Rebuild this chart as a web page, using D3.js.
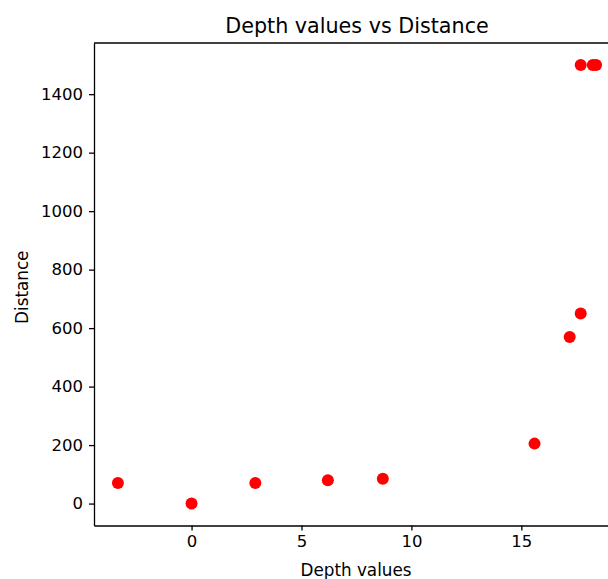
<!DOCTYPE html>
<html lang="en">
<head>
<meta charset="utf-8">
<title>Depth values vs Distance</title>
<script src="https://cdn.jsdelivr.net/npm/d3@7"></script>
<style>
    body { margin: 0; background: white; }
    .axis path, .axis line { fill: none; stroke: black; stroke-width: 1.3; }
    .axis text { font-family: "DejaVu Sans", sans-serif; font-size: 16.5px; fill: black; }
</style>
</head>
<body>
<script>
// data
var depth    = [-3.35, 0, 2.9, 6.2, 8.7, 15.6, 17.2, 17.7, 17.7, 18.25, 18.4];
var distance = [70, 0, 70, 80, 85, 205, 570, 650, 1500, 1500, 1500];
var xTicks = [0, 5, 10, 15];
var yTicks = [0, 200, 400, 600, 800, 1000, 1200, 1400];

var outer_width = 608, outer_height = 579;
// plot box (right side runs past the window like the original)
var margin = {top: 43, left: 94};
var plot_width = 526, plot_height = 482.5;

var svg = d3.select("body").append("svg")
    .attr("width", outer_width)
    .attr("height", outer_height);

var g = svg.append("g")
    .attr("transform", "translate(" + margin.left + "," + margin.top + ")");

// matplotlib style 5% padding
function padded(vals) {
    var lo = d3.min(vals), hi = d3.max(vals), m = (hi - lo) * 0.05;
    return [lo - m, hi + m];
}

var xScale = d3.scaleLinear().domain(padded(depth)).range([0, plot_width]);
var yScale = d3.scaleLinear().domain(padded(distance)).range([plot_height, 0]);

var xAxis = d3.axisBottom(xScale).tickValues(xTicks).tickFormat(d3.format("d"))
    .tickSize(5).tickPadding(5).tickSizeOuter(0);
var yAxis = d3.axisLeft(yScale).tickValues(yTicks).tickFormat(d3.format("d"))
    .tickSize(5).tickPadding(6).tickSizeOuter(0);

g.append("g").attr("class", "axis")
    .attr("transform", "translate(0," + plot_height + ")")
    .call(xAxis);
g.append("g").attr("class", "axis").call(yAxis);

// top spine
g.append("line")
    .attr("x1", 0).attr("x2", plot_width)
    .attr("y1", 0).attr("y2", 0)
    .attr("stroke", "black").attr("stroke-width", 1.3);

// points
g.selectAll("circle.pt")
    .data(depth)
    .enter()
    .append("circle")
    .attr("class", "pt")
    .attr("cx", function(d) { return xScale(d); })
    .attr("cy", function(d, i) { return yScale(distance[i]); })
    .attr("r", 6)
    .attr("fill", "red");

// title and labels
svg.append("text")
    .attr("x", margin.left + plot_width / 2)
    .attr("y", 33)
    .attr("text-anchor", "middle")
    .attr("font-family", "DejaVu Sans, sans-serif")
    .attr("font-size", "20.7px")
    .text("Depth values vs Distance");

svg.append("text")
    .attr("x", margin.left + plot_width / 2 - 1)
    .attr("y", 576)
    .attr("text-anchor", "middle")
    .attr("font-family", "DejaVu Sans, sans-serif")
    .attr("font-size", "16.8px")
    .text("Depth values");

svg.append("text")
    .attr("transform", "translate(28," + (margin.top + plot_height / 2 + 3) + ")rotate(-90)")
    .attr("text-anchor", "middle")
    .attr("font-family", "DejaVu Sans, sans-serif")
    .attr("font-size", "16.8px")
    .text("Distance");
</script>
</body>
</html>
